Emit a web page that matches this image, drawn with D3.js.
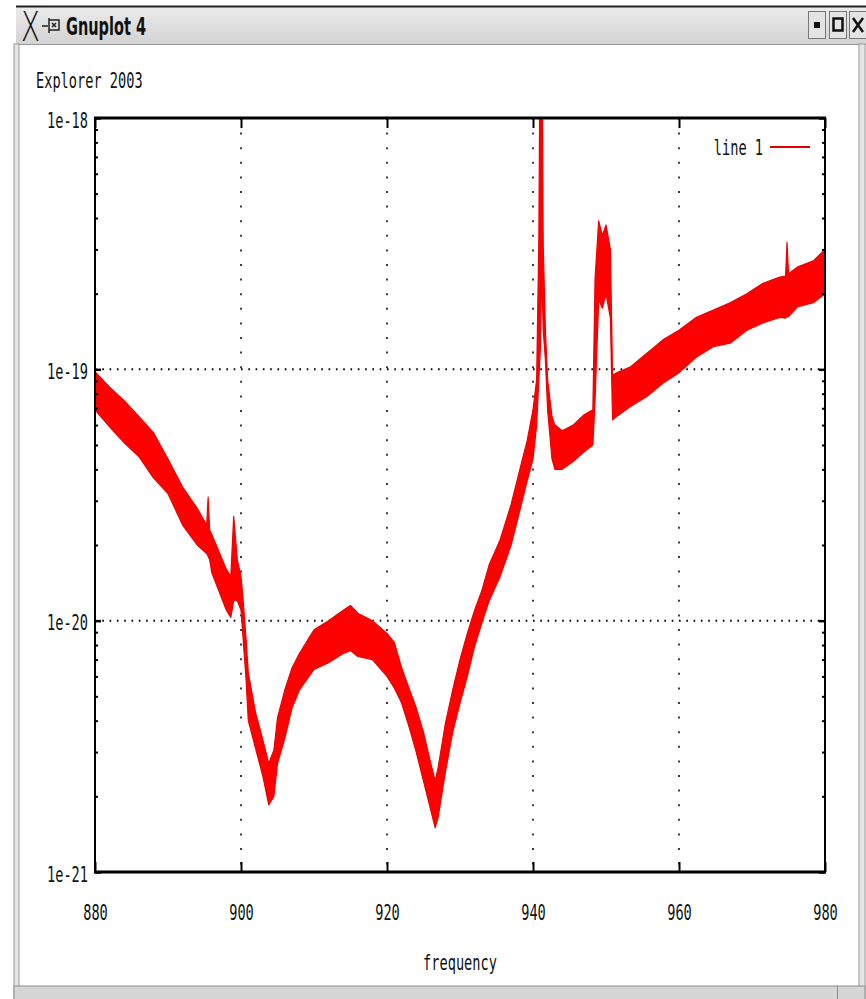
<!DOCTYPE html>
<html>
<head>
<meta charset="utf-8">
<script src="https://cdn.jsdelivr.net/npm/d3@7"></script>
<style>
body { margin: 0; background: #fff; }
svg { display: block; }
.mono { font-family: "DejaVu Sans Mono", "Liberation Mono", monospace; font-size: 22px; fill: #111; }
</style>
</head>
<body>
<script>
// frequency samples with the upper / lower edge of the noisy trace
const freq = [880, 882, 884, 886, 888, 890, 892, 894, 895.3, 895.5,
    895.7, 896, 898, 898.6, 899.0, 899.5, 900, 900.3, 900.7, 901,
    902, 903, 903.8, 904.5, 905, 906, 907, 908, 910, 912,
    914, 915, 916, 918, 920, 921, 922, 923, 924, 925,
    926, 926.6, 927, 928, 929, 930, 931, 932, 933, 934,
    935.5, 937, 938.2, 939.2, 940, 940.5, 940.8, 941.0, 941.2, 941.4,
    941.7, 942, 942.6, 943, 944, 945.5, 947, 948.2, 948.5, 949,
    949.5, 950, 950.6, 950.9, 951.5, 953.3, 955.6, 957.8, 960, 962.4,
    964.7, 967, 969.3, 971.5, 973.8, 974.6, 974.8, 975.0, 976.2, 978.4,
    980];
const upper = [9.8e-20, 8.5e-20, 7.5e-20, 6.5e-20, 5.6e-20, 4.4e-20, 3.4e-20, 2.8e-20, 2.4e-20, 3.1e-20,
    2.3e-20, 2.2e-20, 1.6e-20, 1.5e-20, 2.6e-20, 1.74e-20, 1.5e-20, 1.2e-20, 8.4e-21, 6.2e-21,
    4.3e-21, 3.35e-21, 2.7e-21, 3.05e-21, 4.1e-21, 5.3e-21, 6.5e-21, 7.4e-21, 9.2e-21, 1.0e-20,
    1.10e-20, 1.15e-20, 1.07e-20, 1.0e-20, 8.9e-21, 8.2e-21, 6.5e-21, 5.4e-21, 4.5e-21, 3.6e-21,
    2.7e-21, 2.3e-21, 2.6e-21, 3.9e-21, 5.3e-21, 7.0e-21, 8.9e-21, 1.10e-20, 1.32e-20, 1.67e-20,
    2.1e-20, 2.9e-20, 4.0e-20, 5.2e-20, 6.9e-20, 9.1e-20, 3.3e-19, 3e-18, 3e-18, 3.1e-19,
    1.43e-19, 9.1e-20, 6.5e-20, 6.0e-20, 5.7e-20, 6.0e-20, 6.6e-20, 6.9e-20, 2.3e-19, 3.9e-19,
    3.4e-19, 3.75e-19, 3.0e-19, 9.5e-20, 9.7e-20, 1.02e-19, 1.16e-19, 1.31e-19, 1.43e-19, 1.61e-19,
    1.72e-19, 1.84e-19, 2.0e-19, 2.2e-19, 2.33e-19, 2.35e-19, 3.2e-19, 2.4e-19, 2.55e-19, 2.7e-19,
    3.0e-19];
const lower = [6.9e-20, 5.9e-20, 5.1e-20, 4.5e-20, 3.7e-20, 3.2e-20, 2.4e-20, 2.0e-20, 1.85e-20, 1.8e-20,
    1.75e-20, 1.55e-20, 1.1e-20, 1.03e-20, 1.2e-20, 1.2e-20, 1.1e-20, 8.4e-21, 5.8e-21, 4.0e-21,
    3.1e-21, 2.4e-21, 1.85e-21, 2.0e-21, 2.7e-21, 3.4e-21, 4.5e-21, 5.3e-21, 6.4e-21, 6.8e-21,
    7.4e-21, 7.6e-21, 7.2e-21, 7.0e-21, 6.0e-21, 5.4e-21, 4.7e-21, 3.8e-21, 3.0e-21, 2.3e-21,
    1.76e-21, 1.5e-21, 1.65e-21, 2.5e-21, 3.6e-21, 4.7e-21, 6.0e-21, 7.9e-21, 9.8e-21, 1.2e-20,
    1.5e-20, 2.0e-20, 2.75e-20, 3.6e-20, 4.4e-20, 6.0e-20, 9.1e-20, 1.2e-19, 2.5e-19, 1.43e-19,
    1.09e-19, 6.9e-20, 4.4e-20, 4.0e-20, 4.0e-20, 4.3e-20, 4.7e-20, 5.0e-20, 7.5e-20, 1.9e-19,
    1.75e-19, 2.0e-19, 1.6e-19, 6.3e-20, 6.5e-20, 7.1e-20, 7.8e-20, 8.8e-20, 9.7e-20, 1.12e-19,
    1.23e-19, 1.27e-19, 1.43e-19, 1.53e-19, 1.61e-19, 1.6e-19, 1.62e-19, 1.62e-19, 1.77e-19, 1.84e-19,
    2.0e-19];

const xTicks = [880, 900, 920, 940, 960, 980];
const yTicks = [1e-21, 1e-20, 1e-19, 1e-18];
const yTickLabels = ["1e-21", "1e-20", "1e-19", "1e-18"];
const plotTitle = "Explorer 2003";
const xLabel = "frequency";
const seriesName = "line 1";
const windowTitle = "Gnuplot  4";

var margin = {top: 118, right: 41, bottom: 127, left: 95},
    W = 866, H = 999,
    width = W - margin.left - margin.right,
    height = H - margin.top - margin.bottom;

var svg = d3.select("body").append("svg")
    .attr("width", W)
    .attr("height", H);

// ---- window frame (X11 gnuplot window) ----
var grad = svg.append("defs").append("linearGradient")
    .attr("id", "tb").attr("x1", 0).attr("y1", 0).attr("x2", 0).attr("y2", 1);
grad.append("stop").attr("offset", 0).attr("stop-color", "#ececec");
grad.append("stop").attr("offset", 1).attr("stop-color", "#d2d2d2");

svg.append("rect").attr("x", 16).attr("y", 6).attr("width", 850).attr("height", 39)
    .attr("fill", "url(#tb)");
svg.append("line").attr("x1", 16).attr("x2", 866).attr("y1", 6.5).attr("y2", 6.5)
    .attr("stroke", "#222").attr("stroke-width", 2);
svg.append("line").attr("x1", 16).attr("x2", 866).attr("y1", 44.5).attr("y2", 44.5)
    .attr("stroke", "#9a9a9a");
// side frames
svg.append("rect").attr("x", 14).attr("y", 44).attr("width", 5).attr("height", 955)
    .attr("fill", "#e6e6e6").attr("stroke", "#9a9a9a");
svg.append("rect").attr("x", 859).attr("y", 44).attr("width", 6).attr("height", 955)
    .attr("fill", "#e6e6e6").attr("stroke", "#9a9a9a");
// bottom bar
svg.append("rect").attr("x", 14).attr("y", 986).attr("width", 851).attr("height", 14)
    .attr("fill", "#d6d6d6").attr("stroke", "#8c8c8c");
svg.append("line").attr("x1", 837.5).attr("x2", 837.5).attr("y1", 986).attr("y2", 999)
    .attr("stroke", "#8c8c8c");

// title bar glyphs
svg.append("text").attr("x", 21).attr("y", 41)
    .style("font-family", "DejaVu Sans").style("font-size", "40px").style("font-weight", "200")
    .attr("textLength", 19).attr("lengthAdjust", "spacingAndGlyphs")
    .attr("fill", "#111").text("X");
svg.append("path").attr("d", "M42,26 h6 M49,18 v15 M49,20 h10 v10 h-10 M52,23 l4,4 M56,23 l-4,4")
    .attr("fill", "none").attr("stroke", "#222").attr("stroke-width", 1.5);
svg.append("text").attr("x", 66).attr("y", 35)
    .style("font-family", "DejaVu Sans").style("font-size", "24px").style("font-weight", "bold")
    .attr("textLength", 80).attr("lengthAdjust", "spacingAndGlyphs")
    .attr("fill", "#111").text(windowTitle);

var btnX = [808, 829, 849];
btnX.forEach(function(bx, i) {
    svg.append("rect").attr("x", bx + 0.5).attr("y", 11.5).attr("width", 17).attr("height", 27)
        .attr("fill", "#e4e4e4").attr("stroke", "#777");
    if (i === 0) {
        svg.append("rect").attr("x", bx + 6).attr("y", 22).attr("width", 6).attr("height", 6).attr("fill", "#111");
    } else if (i === 1) {
        svg.append("rect").attr("x", bx + 4.5).attr("y", 18.5).attr("width", 9).attr("height", 12)
            .attr("fill", "none").attr("stroke", "#111").attr("stroke-width", 2.5);
    } else {
        svg.append("path").attr("d", "M" + (bx + 4) + ",18 L" + (bx + 14) + ",32 M" + (bx + 14) + ",18 L" + (bx + 4) + ",32")
            .attr("stroke", "#111").attr("stroke-width", 2.5);
    }
});

// ---- plot ----
var g = svg.append("g")
    .attr("transform", "translate(" + margin.left + "," + margin.top + ")");

var x = d3.scaleLinear().domain([880, 980]).range([0, width]);
var y = d3.scaleLog().domain([1e-21, 1e-18]).range([height, 0]);

function squeeze(sel) {
    sel.each(function() {
        var t = d3.select(this);
        t.attr("textLength", t.text().length * 8.2).attr("lengthAdjust", "spacingAndGlyphs");
    });
}

// grid
g.selectAll(".vgrid").data(xTicks.slice(1, -1)).enter().append("line")
    .attr("x1", d => x(d)).attr("x2", d => x(d))
    .attr("y1", 0).attr("y2", height)
    .attr("stroke", "#000").attr("stroke-width", 1.5)
    .attr("stroke-dasharray", "2,12.6");
g.selectAll(".hgrid").data(yTicks.slice(1, -1)).enter().append("line")
    .attr("x1", 0).attr("x2", width)
    .attr("y1", d => y(d)).attr("y2", d => y(d))
    .attr("stroke", "#000").attr("stroke-width", 2)
    .attr("stroke-dasharray", "1.6,5.7");

// data
var pts = freq.map(function(f, i) { return {f: f, hi: upper[i], lo: lower[i]}; });
g.append("clipPath").attr("id", "clip").append("rect")
    .attr("x", 0).attr("y", -1).attr("width", width).attr("height", height + 1);
var area = d3.area()
    .x(d => x(d.f))
    .y0(d => y(d.lo))
    .y1(d => y(d.hi));
g.append("path")
    .datum(pts)
    .attr("clip-path", "url(#clip)")
    .attr("d", area)
    .attr("fill", "#ff0000")
    .attr("stroke", "#f00000")
    .attr("stroke-width", 1.2)
    .attr("stroke-linejoin", "round");

// axes
var minor = [];
[1e-21, 1e-20, 1e-19].forEach(function(dec) {
    for (var k = 2; k <= 9; k++) minor.push(k * dec);
});

g.append("g")
    .call(d3.axisLeft(y).tickValues(minor).tickSize(-3).tickFormat(""))
    .call(a => a.select(".domain").remove())
    .selectAll("line").attr("stroke-width", 2);
g.append("g").attr("transform", "translate(" + width + ",0)")
    .call(d3.axisRight(y).tickValues(minor).tickSize(-3).tickFormat(""))
    .call(a => a.select(".domain").remove())
    .selectAll("line").attr("stroke-width", 2);

var yAxis = g.append("g")
    .call(d3.axisLeft(y).tickValues(yTicks).tickSizeInner(-6).tickSizeOuter(0).tickPadding(7)
        .tickFormat((d, i) => yTickLabels[i]));
yAxis.select(".domain").remove();
yAxis.selectAll("line").attr("stroke-width", 2.5);
yAxis.selectAll("text").attr("class", "mono").attr("dy", "0.42em").call(squeeze);

g.append("g").attr("transform", "translate(" + width + ",0)")
    .call(d3.axisRight(y).tickValues(yTicks).tickSize(-6).tickFormat(""))
    .call(a => a.select(".domain").remove())
    .selectAll("line").attr("stroke-width", 2.5);

var xAxis = g.append("g").attr("transform", "translate(0," + height + ")")
    .call(d3.axisBottom(x).tickValues(xTicks).tickSizeInner(-10).tickSizeOuter(0).tickPadding(32)
        .tickFormat(d3.format("d")));
xAxis.select(".domain").remove();
xAxis.selectAll("line").attr("stroke-width", 2);
xAxis.selectAll("text").attr("class", "mono").call(squeeze);

g.append("g")
    .call(d3.axisTop(x).tickValues(xTicks).tickSize(-10).tickFormat(""))
    .call(a => a.select(".domain").remove())
    .selectAll("line").attr("stroke-width", 2);

// border
g.append("line").attr("x1", -1).attr("x2", width + 1).attr("y1", 0).attr("y2", 0)
    .attr("stroke", "#000").attr("stroke-width", 3);
g.append("line").attr("x1", -1).attr("x2", width + 1).attr("y1", height).attr("y2", height)
    .attr("stroke", "#000").attr("stroke-width", 3);
g.append("line").attr("x1", 0).attr("x2", 0).attr("y1", 0).attr("y2", height)
    .attr("stroke", "#000").attr("stroke-width", 2);
g.append("line").attr("x1", width).attr("x2", width).attr("y1", 0).attr("y2", height)
    .attr("stroke", "#000").attr("stroke-width", 2);

// texts
svg.append("text").attr("class", "mono")
    .attr("x", 36).attr("y", 88)
    .text(plotTitle).call(squeeze);

svg.append("text").attr("class", "mono")
    .attr("x", margin.left + width / 2).attr("y", 970)
    .attr("text-anchor", "middle")
    .text(xLabel).call(squeeze);

// key
svg.append("text").attr("class", "mono")
    .attr("x", 763).attr("y", 155)
    .attr("text-anchor", "end")
    .text(seriesName).call(squeeze);
svg.append("line").attr("x1", 770).attr("x2", 810).attr("y1", 147).attr("y2", 147)
    .attr("stroke", "#e00000").attr("stroke-width", 2);
</script>
</body>
</html>
